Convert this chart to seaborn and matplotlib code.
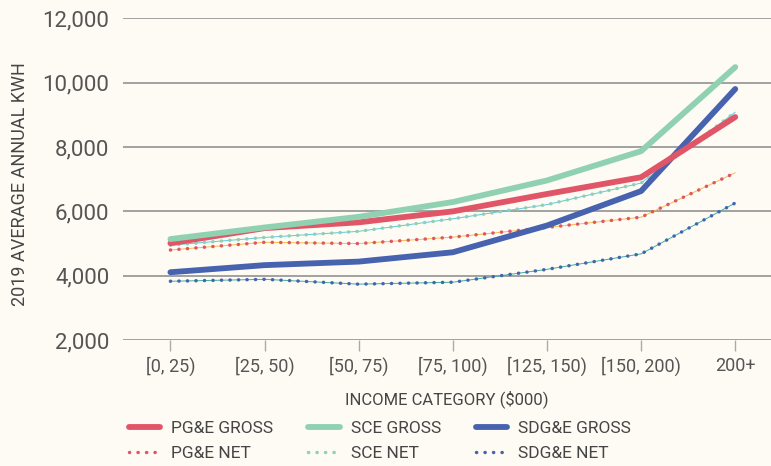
import matplotlib
matplotlib.use("Agg")
import matplotlib.pyplot as plt
import seaborn as sns
import pandas as pd

categories = ["[0, 25)", "[25, 50)", "[50, 75)", "[75, 100)", "[125, 150)", "[150, 200)", "200+"]
pge_gross = [5010, 5480, 5660, 6000, 6540, 7060, 8930]
sce_gross = [5140, 5500, 5830, 6290, 6960, 7870, 10480]
sdge_gross = [4110, 4330, 4440, 4730, 5560, 6630, 9800]
pge_net = [4800, 5040, 5000, 5200, 5500, 5820, 7200]
sce_net = [4950, 5190, 5380, 5770, 6210, 6880, 9080]
sdge_net = [3830, 3890, 3740, 3800, 4200, 4680, 6260]

series_names = ["PG&E GROSS", "PG&E NET", "SCE GROSS", "SCE NET", "SDG&E GROSS", "SDG&E NET"]
series_vals = [pge_gross, pge_net, sce_gross, sce_net, sdge_gross, sdge_net]

RED = "#E05567"
GREEN = "#8FD1B0"
BLUE = "#4763B0"
colors = {"PG&E GROSS": RED, "PG&E NET": RED, "SCE GROSS": GREEN, "SCE NET": GREEN,
          "SDG&E GROSS": BLUE, "SDG&E NET": BLUE}
underlay = {"PG&E NET": "#F5C04A", "SCE NET": "#5BC8E8", "SDG&E NET": "#3BB3A0"}

rows = []
for name, vals in zip(series_names, series_vals):
    for c, v in zip(categories, vals):
        rows.append({"cat": c, "kwh": v, "series": name})
df = pd.DataFrame(rows)

BG = "#FDFBF3"
TXT = "#454545"
sns.set_theme(style="white")
plt.rcParams["font.family"] = ["Roboto", "DejaVu Sans"]

fig = plt.figure(figsize=(7.71, 4.66), dpi=100, facecolor=BG)
ax = fig.add_axes([0.16, 0.27, 0.84, 0.691])
ax.set_facecolor(BG)

draw_order = ["SCE NET", "PG&E NET", "SDG&E NET", "SDG&E GROSS", "PG&E GROSS", "SCE GROSS"]
leg_lines = {}
for name in draw_order:
    sub = df[df.series == name]
    if "GROSS" in name:
        sns.lineplot(data=sub, x="cat", y="kwh", ax=ax, color=colors[name], lw=4.2,
                     solid_capstyle="round", solid_joinstyle="round", sort=False, legend=False)
        leg_lines[name] = ax.lines[-1]
    else:
        sns.lineplot(data=sub, x="cat", y="kwh", ax=ax, color=underlay[name], lw=0.7,
                     sort=False, legend=False)
        sns.lineplot(data=sub, x="cat", y="kwh", ax=ax, color=colors[name], lw=2.5,
                     sort=False, legend=False)
        ln = ax.lines[-1]
        ln.set_linestyle((0, (0.05, 2.4)))
        ln.set_dash_capstyle("round")
        leg_lines[name] = ln

ax.set_ylim(2000, 12000)
ax.set_xlim(-0.5, 6.38)
yt = [2000, 4000, 6000, 8000, 10000, 12000]
ax.set_yticks(yt)
ax.set_yticklabels([f"{v:,}" for v in yt])
ax.yaxis.grid(True, color="#9A9A9A", lw=1.3)
ax.set_axisbelow(True)
for s in ["top", "right", "left", "bottom"]:
    ax.spines[s].set_visible(False)
ax.tick_params(axis="y", length=0, labelsize=16, labelcolor="#555555", pad=10)
ax.tick_params(axis="x", length=8, width=1, color="#AAAAAA", labelsize=13,
               labelcolor="#555555", pad=4, direction="out", bottom=True)

ax.set_xlabel("INCOME CATEGORY ($000)", fontsize=12, color=TXT)
ax.xaxis.set_label_coords(0.5, -0.155)
ax.set_ylabel("2019 AVERAGE ANNUAL KWH", fontsize=13, color=TXT)
ax.yaxis.set_label_coords(-0.146, 0.484)

leg = fig.legend(handles=[leg_lines[n] for n in series_names], labels=series_names, ncol=3,
                 loc="upper left", bbox_to_anchor=(0.147, 0.131), frameon=False,
                 prop={"size": 12.5},
                 handlelength=1.8, handletextpad=0.65, columnspacing=2.0, labelspacing=0.6,
                 labelcolor=TXT)

fig.savefig("out.png", dpi=100, facecolor=BG)
